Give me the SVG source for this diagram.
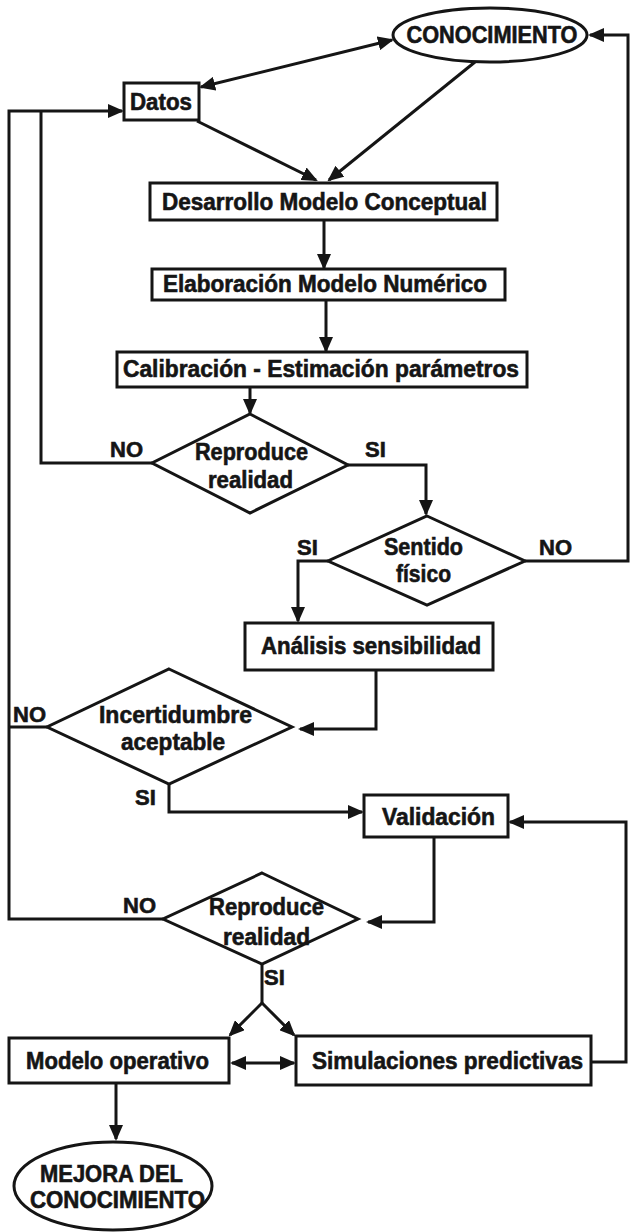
<svg xmlns="http://www.w3.org/2000/svg" width="631" height="1232" viewBox="0 0 631 1232">
<style>
.n{fill:#fff;stroke:#151515;stroke-width:3}
.t{font-family:"Liberation Sans",Arial,sans-serif;font-weight:bold;font-size:23px;fill:#151515;stroke:#151515;stroke-width:0.6;text-anchor:middle}
.l{font-family:"Liberation Sans",Arial,sans-serif;font-weight:bold;font-size:22px;fill:#151515;stroke:#151515;stroke-width:0.6}
.c{fill:none;stroke:#151515;stroke-width:3;stroke-linejoin:miter}
.a{marker-end:url(#ah)}
.b{marker-start:url(#ah);marker-end:url(#ah)}
</style>
<defs>
<marker id="ah" viewBox="0 0 16 14" refX="14" refY="7" markerWidth="16" markerHeight="14" markerUnits="userSpaceOnUse" orient="auto-start-reverse"><path d="M0,0 L16,7 L0,14 z" fill="#151515"/></marker>
</defs>
<rect width="631" height="1232" fill="#fff"/>
<g id="connectors">
<line class="c b" x1="201" y1="87" x2="392" y2="40"/>
<line class="c a" x1="197" y1="121" x2="316" y2="180"/>
<line class="c a" x1="475" y1="62" x2="329" y2="180"/>
<line class="c a" x1="324" y1="220" x2="324" y2="268"/>
<line class="c a" x1="326" y1="300" x2="326" y2="351"/>
<line class="c a" x1="250" y1="387" x2="250" y2="413"/>
<polyline class="c" points="152,463 41,463 41,111"/>
<polyline class="c a" points="163,919 9,919 9,111 122,111"/>
<line class="c" x1="47" y1="727" x2="9" y2="727"/>
<polyline class="c a" points="348,465 426,465 426,514"/>
<polyline class="c a" points="525,561 628,561 628,35 590,35"/>
<polyline class="c a" points="328,561 298,561 298,621"/>
<polyline class="c a" points="376,670 376,729 300,729"/>
<polyline class="c a" points="169,784 169,812 362,812"/>
<polyline class="c a" points="434,837 434,922 368,922"/>
<polyline class="c a" points="591,1062 626,1062 626,822 510,822"/>
<line class="c" x1="262" y1="964" x2="262" y2="1003"/>
<line class="c a" x1="262" y1="1003" x2="230" y2="1035"/>
<line class="c a" x1="262" y1="1003" x2="294" y2="1035"/>
<line class="c b" x1="232" y1="1063" x2="294" y2="1063"/>
<line class="c a" x1="116" y1="1083" x2="116" y2="1139"/>
</g>
<g id="conocimiento">
<ellipse class="n" cx="490" cy="35" rx="97" ry="27"/>
<text class="t" x="492" y="43" textLength="171" lengthAdjust="spacingAndGlyphs">CONOCIMIENTO</text>
</g>
<g id="datos">
<rect class="n" x="124" y="83" width="75" height="37"/>
<text class="t" x="161" y="110" textLength="62" lengthAdjust="spacingAndGlyphs">Datos</text>
</g>
<g id="desarrollo">
<rect class="n" x="150" y="183" width="347" height="37"/>
<text class="t" x="324.5" y="210" textLength="325" lengthAdjust="spacingAndGlyphs">Desarrollo Modelo Conceptual</text>
</g>
<g id="elaboracion">
<rect class="n" x="152" y="269" width="353" height="31"/>
<text class="t" x="325" y="292" textLength="324" lengthAdjust="spacingAndGlyphs">Elaboración Modelo Numérico</text>
</g>
<g id="calibracion">
<rect class="n" x="117" y="352" width="410" height="35"/>
<text class="t" x="321" y="377" textLength="396" lengthAdjust="spacingAndGlyphs">Calibración - Estimación parámetros</text>
</g>
<g id="reproduce1">
<polygon class="n" points="250,414 348,465 250,513 152,463"/>
<text class="t" x="251.5" y="460" textLength="113" lengthAdjust="spacingAndGlyphs">Reproduce</text>
<text class="t" x="250.5" y="488" textLength="85" lengthAdjust="spacingAndGlyphs">realidad</text>
<text class="l" x="110" y="457">NO</text>
<text class="l" x="365" y="457">SI</text>
</g>
<g id="sentido">
<polygon class="n" points="427,516 525,561 427,605 328,561"/>
<text class="t" x="423.5" y="555" textLength="79" lengthAdjust="spacingAndGlyphs">Sentido</text>
<text class="t" x="423.5" y="582" textLength="55" lengthAdjust="spacingAndGlyphs">físico</text>
<text class="l" x="297" y="555">SI</text>
<text class="l" x="539" y="555">NO</text>
</g>
<g id="analisis">
<rect class="n" x="245" y="623" width="248" height="47"/>
<text class="t" x="371" y="654" textLength="220" lengthAdjust="spacingAndGlyphs">Análisis sensibilidad</text>
</g>
<g id="incertidumbre">
<polygon class="n" points="169,669 292,727 169,784 47,727"/>
<text class="t" x="175.5" y="723" textLength="153" lengthAdjust="spacingAndGlyphs">Incertidumbre</text>
<text class="t" x="173" y="750" textLength="104" lengthAdjust="spacingAndGlyphs">aceptable</text>
<text class="l" x="13" y="722">NO</text>
<text class="l" x="135" y="805">SI</text>
</g>
<g id="validacion">
<rect class="n" x="364" y="795" width="144" height="42"/>
<text class="t" x="438.5" y="825" textLength="113" lengthAdjust="spacingAndGlyphs">Validación</text>
</g>
<g id="reproduce2">
<polygon class="n" points="262,873 358,919 262,964 163,919"/>
<text class="t" x="266.5" y="915" textLength="115" lengthAdjust="spacingAndGlyphs">Reproduce</text>
<text class="t" x="266.5" y="945" textLength="87" lengthAdjust="spacingAndGlyphs">realidad</text>
<text class="l" x="123" y="913">NO</text>
<text class="l" x="264" y="985">SI</text>
</g>
<g id="modelo">
<rect class="n" x="9" y="1038" width="220" height="45"/>
<text class="t" x="117.5" y="1069" textLength="183" lengthAdjust="spacingAndGlyphs">Modelo operativo</text>
</g>
<g id="simulaciones">
<rect class="n" x="296" y="1036" width="295" height="49"/>
<text class="t" x="447.5" y="1069" textLength="271" lengthAdjust="spacingAndGlyphs">Simulaciones predictivas</text>
</g>
<g id="mejora">
<ellipse class="n" cx="113" cy="1186" rx="99" ry="44"/>
<text class="t" x="111.5" y="1182" textLength="143" lengthAdjust="spacingAndGlyphs">MEJORA DEL</text>
<text class="t" x="117.5" y="1208" textLength="175" lengthAdjust="spacingAndGlyphs">CONOCIMIENTO</text>
</g>
</svg>
